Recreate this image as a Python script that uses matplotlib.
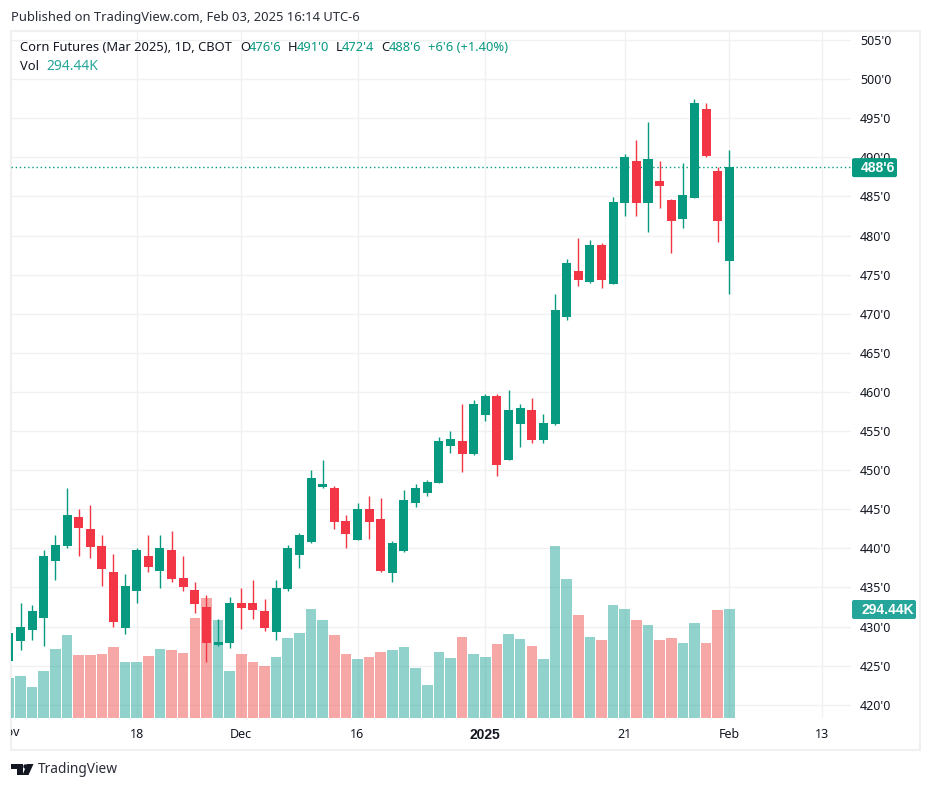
import matplotlib
matplotlib.use('Agg')
import matplotlib.pyplot as plt
from matplotlib.patches import Polygon, Circle, Rectangle, FancyBboxPatch
from matplotlib.transforms import Bbox

plt.rcParams['font.family'] = ['Noto Sans', 'DejaVu Sans']

# prices, one value per daily bar
opens = [425.6, 428.16, 429.57, 431.1, 438.39, 440.31, 444.02, 442.49, 440.31, 436.99, 429.83, 434.56, 439.03,
         437.11, 439.8, 436.22, 434.68, 432.51, 427.65, 427.91, 433.02, 433.02, 432.0, 429.31, 434.85, 439.2,
         440.86, 447.89, 447.77, 443.55, 441.12, 445.08, 443.8, 436.9, 439.71, 445.85, 447.13, 448.41, 453.14,
         453.78, 452.11, 457.1, 459.53, 451.35, 455.95, 457.74, 453.9, 455.95, 469.6, 475.48, 474.07, 478.8,
         473.82, 484.17, 489.54, 484.17, 486.99, 484.56, 482.13, 484.81, 496.19, 488.27, 476.75]
highs = [429.5, 433.0, 432.75, 439.8, 441.72, 447.73, 445.04, 445.55, 441.72, 439.29, 436.73, 440.06, 441.72,
         441.72, 442.23, 439.03, 435.71, 434.04, 430.98, 433.79, 434.94, 435.96, 433.53, 435.96, 440.48, 442.01,
         450.07, 451.35, 448.02, 444.31, 445.85, 446.74, 446.49, 440.99, 447.51, 448.28, 448.79, 454.29, 455.06,
         458.51, 459.02, 459.79, 459.79, 460.3, 458.51, 459.28, 457.23, 472.5, 477.01, 479.7, 479.44, 479.06,
         484.94, 490.44, 492.23, 494.53, 489.54, 484.68, 489.29, 497.47, 496.96, 488.78, 491.0]
lows = [425.25, 427.0, 428.3, 427.52, 435.96, 440.06, 439.03, 438.78, 435.2, 429.95, 429.06, 433.02, 436.99,
        434.94, 435.71, 434.56, 431.74, 425.48, 427.52, 427.27, 429.7, 430.98, 429.44, 428.29, 434.6, 437.54,
        440.73, 447.77, 442.52, 440.09, 441.12, 441.24, 437.03, 435.75, 439.58, 445.34, 446.74, 448.41, 452.24,
        449.81, 451.99, 456.33, 449.3, 451.35, 453.01, 453.52, 453.52, 455.8, 469.21, 473.56, 473.94, 473.3,
        473.82, 482.51, 482.51, 480.46, 483.53, 477.78, 480.98, 484.81, 490.06, 479.19, 472.5]
closes = [429.2, 429.95, 432.0, 439.03, 440.44, 444.28, 442.61, 440.18, 437.37, 430.59, 435.2, 439.8, 437.63,
          440.06, 436.09, 435.07, 432.89, 427.91, 428.03, 433.02, 432.38, 432.13, 429.83, 434.94, 440.09, 441.76,
          449.05, 448.28, 443.42, 441.88, 445.08, 443.42, 437.15, 440.73, 446.23, 447.77, 448.53, 453.78, 454.03,
          452.11, 458.51, 459.53, 450.71, 457.74, 458.0, 453.9, 456.08, 470.49, 476.5, 474.33, 478.8, 474.33,
          484.3, 490.06, 484.17, 489.8, 486.35, 481.87, 485.2, 496.96, 490.18, 481.87, 488.75]
volumes = [108, 113.4, 83.7, 126.9, 186.3, 224.1, 170.1, 170.1, 172.8, 191.7, 151.2, 151.2, 167.4, 186.3, 183.6,
           175.5, 270, 324, 264.6, 126.9, 172.8, 151.2, 140.4, 164.7, 216, 229.5, 294.3, 264.6, 224.1, 172.8,
           159.3, 164.7, 178.2, 183.6, 191.7, 135, 89.1, 178.2, 162, 218.7, 172.8, 164.7, 199.8, 226.8, 213.3,
           194.4, 159.3, 464.4, 375.3, 278.1, 218.7, 210.6, 305.1, 294.3, 264.6, 251.1, 210.6, 216, 202.5, 256.5,
           202.5, 291.6, 294.44]

price_ticks = [420, 425, 430, 435, 440, 445, 450, 455, 460, 465, 470, 475, 480, 485, 490, 495, 500, 505]
date_pos = [11, 20, 30, 41, 53, 62, 70]
date_labels = ['18', 'Dec', '16', '2025', '21', 'Feb', '13']
last_price = 488.75
last_volume = 294.44

UP = '#089981'
DOWN = '#F23645'
VOL_UP = '#26a69a'
VOL_DOWN = '#ef5350'
GRID = '#f1f1f1'
TEXT = '#131722'
BOLD = 'Liberation Sans'
W, H = 931, 789


def px_rect(x0, y0, x1, y1):
    # figure fraction rect from pixel corners, y counted from the top
    return [x0 / W, 1 - y1 / H, (x1 - x0) / W, (y1 - y0) / H]


fig = plt.figure(figsize=(W / 100, H / 100), dpi=100, facecolor='white')

# overlay in pixel coordinates for the frame
bg = fig.add_axes([0, 0, 1, 1])
bg.set_xlim(0, W)
bg.set_ylim(H, 0)
bg.axis('off')
bg.add_patch(Rectangle((10.5, 31), 909.5, 719, fill=False, ec='#f0f0f0', lw=1.5))

# three stacked axes: grid, then volume, then candles
ax = fig.add_axes(px_rect(11, 32, 851, 718))
ax_vol = ax.twinx()
ax_candle = ax.twinx()
for a in (ax, ax_vol, ax_candle):
    a.patch.set_visible(False)
    for s in a.spines.values():
        s.set_visible(False)

ax.set_xlim(0.18, 72.47)
ax.set_ylim(418.31, 506.03)
ax_candle.set_ylim(ax.get_ylim())
ax_vol.set_ylim(0, 1855.8 * 686 / 687)
ax_vol.set_yticks([])
ax_candle.set_yticks([])

ax.set_yticks(price_ticks)
ax.set_yticklabels(["%d'0" % p for p in price_ticks], fontsize=9, color=TEXT)
ax.yaxis.tick_right()
ax.tick_params(axis='y', length=0, pad=6.5)
ax.set_xticks(date_pos)
ax.set_xticklabels(date_labels, fontsize=9, color=TEXT)
ax.tick_params(axis='x', length=0, pad=7)
year = ax.get_xticklabels()[3]
year.set_family(BOLD)
year.set_fontweight('bold')
year.set_fontsize(10)
ax.grid(True, color=GRID, lw=1.0)
ax.set_axisbelow(True)

# Nov sits on the first bar, half cut off by the pane edge
nov = fig.text(0, -15 / 686, 'Nov', transform=ax.get_xaxis_transform(), fontsize=9, color=TEXT,
               ha='center', va='center')
nov.set_clip_on(True)
nov.set_clip_box(Bbox.from_extents(11, 0, W, H))

xs = list(range(len(closes)))
is_up = [c >= o for o, c in zip(opens, closes)]
candle_colors = [UP if u else DOWN for u in is_up]
vol_colors = [VOL_UP if u else VOL_DOWN for u in is_up]

ax_vol.bar(xs, volumes, width=0.91, color=vol_colors, alpha=0.5, lw=0)

ax_candle.vlines(xs, lows, highs, colors=candle_colors, lw=1.0, zorder=2)
ax_candle.bar(xs, [abs(c - o) for o, c in zip(opens, closes)], bottom=[min(o, c) for o, c in zip(opens, closes)],
              width=0.775, color=candle_colors, lw=0, zorder=3)
ax_candle.axhline(last_price, color=UP, lw=1.0, ls=(0, (1, 2)), zorder=1)

# value tags on the price scale
to_px = lambda v: H - ax.transData.transform((0, v))[1]
y_tag = to_px(last_price)
y_vol = H - ax_vol.transData.transform((0, last_volume))[1]
tag1 = FancyBboxPatch((852, y_tag - 9), 45, 19, boxstyle='round,pad=0,rounding_size=2', fc=UP, ec='none', zorder=5)
tag2 = FancyBboxPatch((852, y_vol - 9), 64, 19, boxstyle='round,pad=0,rounding_size=2', fc=VOL_UP, ec='none', zorder=5)
top = fig.add_axes([0, 0, 1, 1])
top.set_xlim(0, W)
top.set_ylim(H, 0)
top.axis('off')
top.add_patch(tag1)
top.add_patch(tag2)
top.text(861, y_tag + 0.5, "488'6", color='white', fontsize=10, family=BOLD, fontweight='bold', va='center', zorder=6)
top.text(861, y_vol + 0.5, '294.44K', color='white', fontsize=10, family=BOLD, fontweight='bold', va='center', zorder=6)

# header texts
top.text(11, 17, 'Published on TradingView.com, Feb 03, 2025 16:14 UTC-6', fontsize=9.35, color='#2a2e39', va='center')
top.text(20, 47, 'Corn Futures (Mar 2025), 1D, CBOT', fontsize=9.3, color=TEXT, va='center')
for x, s, c in [(240, 'O', TEXT), (249, "476'6", UP), (288, 'H', TEXT), (297, "491'0", UP), (336, 'L', TEXT),
                (342, "472'4", UP), (381, 'C', TEXT), (389, "488'6", UP), (428, "+6'6 (+1.40%)", UP)]:
    top.text(x, 47, s, fontsize=9.3, color=c, va='center')
top.text(20, 66, 'Vol', fontsize=9.3, color=TEXT, va='center')
top.text(46, 66, '294.44K', fontsize=10, color=VOL_UP, va='center')

# logo
top.add_patch(Polygon([(11, 764), (23, 764), (23, 775), (17, 775), (17, 769), (11, 769)], fc=TEXT, ec='none'))
top.add_patch(Circle((25.5, 766.5), 2.2, fc=TEXT, ec='none'))
top.add_patch(Polygon([(27, 764), (33.5, 764), (28.5, 775), (22.5, 775)], fc=TEXT, ec='none'))
top.text(38, 769.5, 'TradingView', fontsize=9.9, color='#2a2e39', va='center')

fig.savefig('out.png', dpi=100)
